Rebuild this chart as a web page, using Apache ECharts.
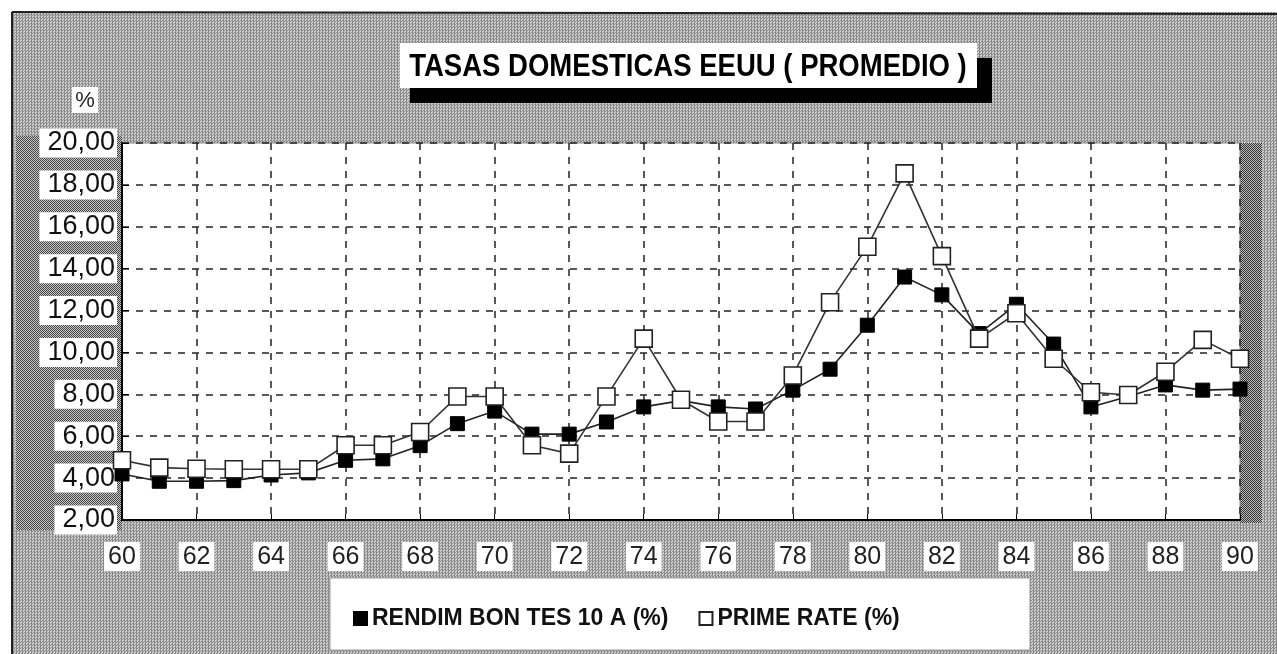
<!DOCTYPE html>
<html>
<head>
<meta charset="utf-8">
<script src="https://cdn.jsdelivr.net/npm/echarts@6/dist/echarts.min.js"></script>
<style>
  html, body { margin: 0; padding: 0; background: #fff; }
  #chart {
    width: 1277px; height: 654px;
    background: repeating-conic-gradient(#8a8a8a 0 25%, #cecece 0 50%) 0 0 / 3px 3px;
  }
</style>
</head>
<body>
<div id="chart"></div>
<script>
// años y series
const years = [60, 61, 62, 63, 64, 65, 66, 67, 68, 69, 70, 71, 72, 73, 74, 75,
  76, 77, 78, 79, 80, 81, 82, 83, 84, 85, 86, 87, 88, 89, 90];
const rendimBonTes = [4.2, 3.85, 3.85, 3.88, 4.15, 4.25, 4.85, 4.92, 5.55, 6.6, 7.2, 6.1,
  6.1, 6.68, 7.4, 7.7, 7.4, 7.3, 8.2, 9.2, 11.3, 13.6, 12.75, 10.9, 12.3, 10.4,
  7.4, 7.9, 8.45, 8.2, 8.25];
const primeRate = [4.85, 4.5, 4.45, 4.42, 4.42, 4.42, 5.57, 5.57, 6.2, 7.9, 7.9, 5.57,
  5.17, 7.9, 10.66, 7.74, 6.7, 6.7, 8.9, 12.4, 15.05, 18.55, 14.6, 10.66, 11.87,
  9.7, 8.1, 7.97, 9.08, 10.6, 9.7];

const titleText = 'TASAS DOMESTICAS EEUU ( PROMEDIO )';
const seriesNames = ['RENDIM BON TES 10 A (%)', 'PRIME RATE (%)'];

const chart = echarts.init(document.getElementById('chart'));

const pairs = (vals) => years.map((y, i) => [y, vals[i]]);
const sans = '"Liberation Sans", Arial, sans-serif';

// trama punteada más oscura para las franjas laterales
function dither(dark, light) {
  const c = document.createElement('canvas');
  c.width = 2; c.height = 2;
  const g = c.getContext('2d');
  g.fillStyle = light; g.fillRect(0, 0, 2, 2);
  g.fillStyle = dark; g.fillRect(0, 0, 1, 1); g.fillRect(1, 1, 1, 1);
  return { image: c, repeat: 'repeat' };
}

chart.setOption({
  animation: false,
  backgroundColor: 'transparent',
  grid: { left: 122, right: 37, top: 143, bottom: 134 },
  xAxis: {
    type: 'value', min: 60, max: 90, interval: 2,
    axisLine: { lineStyle: { color: '#000', width: 2 } },
    axisTick: { inside: true, length: 6, lineStyle: { color: '#000' } },
    axisLabel: {
      margin: 22, fontSize: 25, color: '#222', fontFamily: sans,
      backgroundColor: '#fff', padding: [3, 4, 1, 4]
    },
    splitLine: { show: true, lineStyle: { color: '#222', width: 1.5, type: [7, 7] } }
  },
  yAxis: {
    type: 'value', min: 2, max: 20, interval: 2,
    axisLine: { show: true, lineStyle: { color: '#000', width: 2 } },
    axisTick: { show: true, inside: true, length: 7, lineStyle: { color: '#000' } },
    axisLabel: {
      margin: 5, fontSize: 27, color: '#111', fontFamily: sans,
      backgroundColor: '#fff', padding: [2, 2, 0, 8],
      formatter: (v) => v.toFixed(2).replace('.', ',')
    },
    splitLine: { show: true, lineStyle: { color: '#222', width: 1.5, type: [7, 7] } }
  },
  legend: {
    left: 348, top: 602, itemGap: 30, itemWidth: 13, itemHeight: 13,
    textStyle: { fontSize: 23, fontWeight: 'bold', color: '#111', fontFamily: sans },
    data: [
      { name: seriesNames[0], icon: 'rect' },
      { name: seriesNames[1], icon: 'rect' }
    ]
  },
  graphic: [
    { type: 'rect', shape: { x: 0, y: 0, width: 1277, height: 12 }, style: { fill: '#fff' } },
    { type: 'rect', shape: { x: 0, y: 0, width: 12, height: 654 }, style: { fill: '#fff' } },
    { type: 'line', shape: { x1: 12, y1: 12, x2: 1277, y2: 14 }, style: { stroke: '#222', lineWidth: 2 } },
    { type: 'line', shape: { x1: 12, y1: 12, x2: 12, y2: 654 }, style: { stroke: '#222', lineWidth: 2 } },
    // franjas oscuras a los lados del área de trazado
    { type: 'rect', shape: { x: 16, y: 136, width: 106, height: 394 }, style: { fill: dither('#444', '#c8c8c8') }, z: -1 },
    { type: 'rect', shape: { x: 1240, y: 143, width: 22, height: 380 }, style: { fill: dither('#333', '#bbb') }, z: -1 },
    { type: 'rect', shape: { x: 122, y: 143, width: 1118, height: 377 }, style: { fill: '#fff', stroke: '#888', lineWidth: 1 }, z: -1 },
    // título con sombra
    { type: 'rect', shape: { x: 410, y: 58, width: 582, height: 45 }, style: { fill: '#000' } },
    { type: 'rect', shape: { x: 400, y: 43, width: 577, height: 45 }, style: { fill: '#fff' } },
    {
      type: 'text', x: 688, y: 67, scaleX: 0.86,
      style: {
        text: titleText, fill: '#000', fontSize: 32, fontWeight: 'bold',
        fontFamily: sans, align: 'center', verticalAlign: 'middle'
      }
    },
    // etiqueta de unidades
    { type: 'rect', shape: { x: 72, y: 87, width: 26, height: 26 }, style: { fill: '#fff' } },
    {
      type: 'text', x: 85, y: 101,
      style: { text: '%', fill: '#222', fontSize: 22, fontFamily: sans, align: 'center', verticalAlign: 'middle' }
    },
    // caja de la leyenda
    { type: 'rect', shape: { x: 330, y: 578, width: 700, height: 72 }, style: { fill: '#fff', stroke: '#999', lineWidth: 1 }, z: -1 }
  ],
  series: [
    {
      name: seriesNames[0], type: 'line', data: pairs(rendimBonTes),
      symbol: 'rect', symbolSize: 14, clip: false,
      lineStyle: { color: '#222', width: 1.6 },
      itemStyle: { color: '#000', borderColor: '#000', borderWidth: 1 },
      z: 2
    },
    {
      name: seriesNames[1], type: 'line', data: pairs(primeRate),
      symbol: 'rect', symbolSize: 17, clip: false,
      lineStyle: { color: '#333', width: 1.6 },
      itemStyle: { color: '#fff', borderColor: '#222', borderWidth: 1.6 },
      z: 3
    }
  ]
});
</script>
</body>
</html>
